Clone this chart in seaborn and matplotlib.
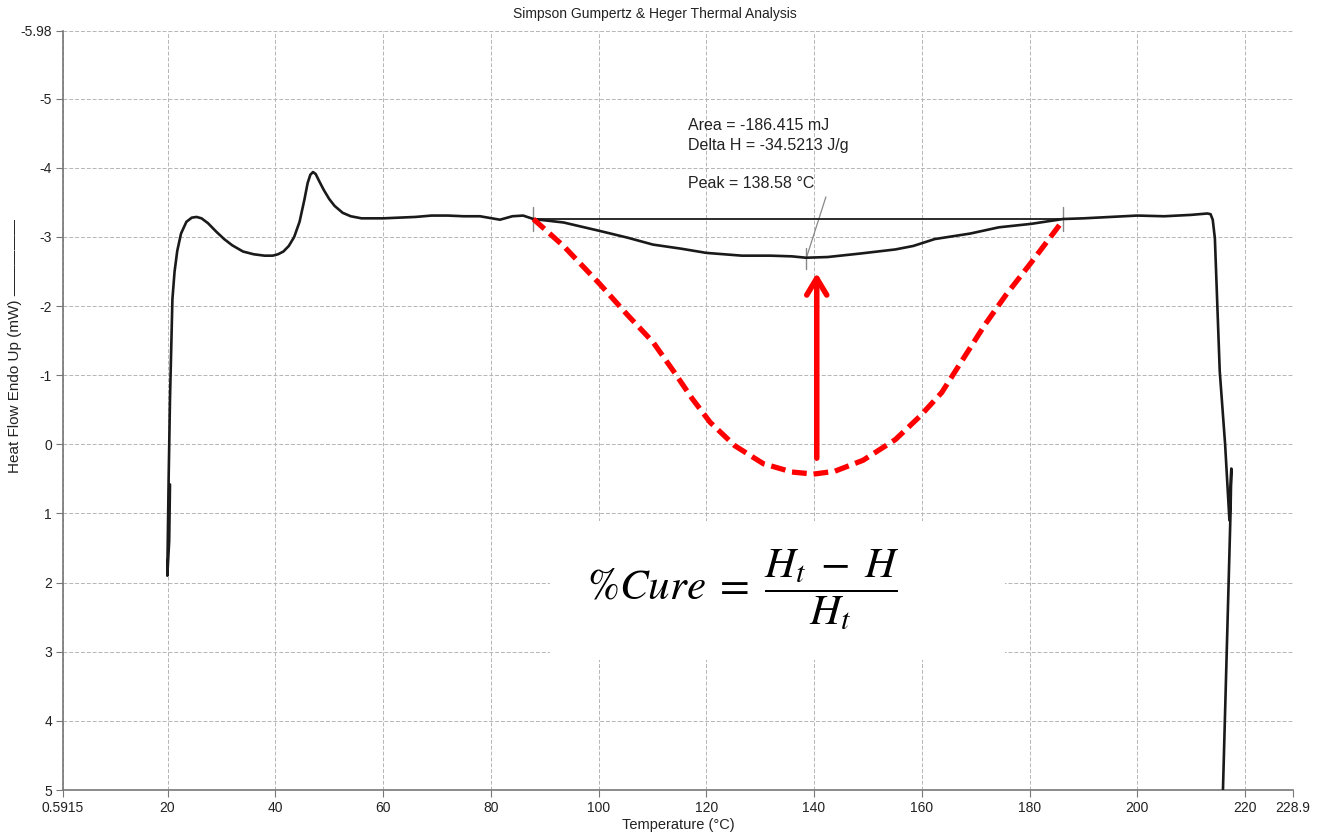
import numpy as np
import pandas as pd
import matplotlib
matplotlib.use("Agg")
import matplotlib.pyplot as plt
from matplotlib.patches import Rectangle
import seaborn as sns

# DSC trace (temperature in C, heat flow in mW, endo up)
temp = [20.45, 20.3, 19.95, 20.2, 20.45, 20.9, 21.3, 21.8, 22.5, 23.5, 24.5, 25.4,
        26.3, 27.5, 29.0, 30.5, 32.0, 34.0, 36.0, 38.0, 39.5, 40.5, 41.5, 42.5,
        43.5, 44.5, 45.4, 46.0, 46.5, 47.0, 47.5, 48.2, 49.0, 50.0, 51.0, 52.5,
        54.0, 56.0, 60.0, 63.0, 66.0, 69.0, 72.0, 75.0, 78.0, 81.7, 84.0, 86.0,
        87.9, 93.5, 100.1, 105.4, 110.1, 115.4, 120.0, 126.6, 131.9, 135.9,
        138.5, 142.5, 148.5, 155.1, 158.4, 162.4, 169.0, 174.3, 180.3, 186.2,
        190.0, 195.0, 200.0, 205.0, 210.0, 213.0, 213.6, 214.0, 214.4, 215.3,
        216.3, 217.1, 217.45, 217.3, 216.6, 215.9, 215.7]
heat = [0.58, 1.4, 1.9, 0.5, -0.65, -2.1, -2.5, -2.8, -3.05, -3.22, -3.28, -3.29,
        -3.27, -3.2, -3.08, -2.97, -2.88, -2.79, -2.75, -2.73, -2.73, -2.75, -2.79, -2.87,
        -3.0, -3.22, -3.54, -3.78, -3.9, -3.94, -3.91, -3.8, -3.68, -3.55, -3.45, -3.35,
        -3.3, -3.27, -3.27, -3.28, -3.29, -3.31, -3.31, -3.3, -3.3, -3.25, -3.3, -3.31,
        -3.26, -3.21, -3.09, -2.99, -2.89, -2.83, -2.77, -2.73, -2.73, -2.72,
        -2.7, -2.71, -2.76, -2.82, -2.87, -2.97, -3.05, -3.14, -3.19, -3.26,
        -3.27, -3.29, -3.31, -3.3, -3.32, -3.34, -3.33, -3.25, -2.98, -1.06,
        0.0, 1.1, 0.35, 1.0, 3.0, 5.0, 5.5]

# integration baseline and limits
base_t = [87.9, 186.2]
base_h = [-3.26, -3.26]
peak_t = 138.58
peak_h = -2.70

# red dashed "uncured" sketch curve
red_t = [87.9, 93.5, 100.1, 105.4, 110.1, 114.0, 117.4, 120.7, 125.3, 130.6, 135.9,
         139.9, 143.8, 149.1, 155.1, 159.7, 163.7, 167.7, 171.7, 175.6, 180.3, 183.6, 186.2]
red_h = [-3.26, -2.87, -2.33, -1.87, -1.48, -1.05, -0.66, -0.32, 0.02, 0.28, 0.40,
         0.43, 0.39, 0.23, -0.07, -0.41, -0.75, -1.24, -1.73, -2.16, -2.63, -2.97, -3.24]

x_ticks = [0.5915, 20, 40, 60, 80, 100, 120, 140, 160, 180, 200, 220, 228.9]
x_labels = ["0.5915", "20", "40", "60", "80", "100", "120", "140", "160", "180", "200", "220", "228.9"]
y_ticks = [-5.98, -5, -4, -3, -2, -1, 0, 1, 2, 3, 4, 5]
y_labels = ["-5.98", "-5", "-4", "-3", "-2", "-1", "0", "1", "2", "3", "4", "5"]

sns.set_theme(style="white")
plt.rcParams["font.family"] = ["Liberation Sans", "DejaVu Sans"]
plt.rcParams["mathtext.fontset"] = "stix"

fig, ax = plt.subplots(figsize=(13.26, 8.36), dpi=100)
fig.subplots_adjust(left=63 / 1326, right=1293 / 1326, top=1 - 31 / 836, bottom=1 - 790 / 836)

dsc = pd.DataFrame({"T": temp, "Q": heat})
red = pd.DataFrame({"T": red_t, "Q": red_h})

sns.lineplot(data=dsc, x="T", y="Q", sort=False, estimator=None, color="#1a1a1a", lw=1.9, ax=ax, zorder=4)
sns.lineplot(x=base_t, y=base_h, sort=False, estimator=None, color="#1a1a1a", lw=1.3, ax=ax, zorder=4)
sns.lineplot(data=red, x="T", y="Q", sort=False, estimator=None, color="#ff0000", lw=3.8,
             ax=ax, zorder=5)
ax.lines[-1].set_dashes((2.8, 1.3))

# limit ticks and peak marker
for t in base_t:
    ax.plot([t, t], [base_h[0] - 0.18, base_h[0] + 0.18], color="#888888", lw=1.0, zorder=3)
ax.plot([peak_t, peak_t], [peak_h - 0.14, peak_h + 0.17], color="#888888", lw=1.0, zorder=3)
ax.plot([peak_t, 142.2], [peak_h, -3.58], color="#888888", lw=0.9, zorder=3)

ax.text(116.6, -4.61, "Area = -186.415 mJ", fontsize=11.5, va="center", color="#222222")
ax.text(116.6, -4.33, "Delta H = -34.5213 J/g", fontsize=11.5, va="center", color="#222222")
ax.text(116.6, -3.78, "Peak = 138.58 \u00b0C", fontsize=11.5, va="center", color="#222222")

ax.annotate("", xy=(140.5, -2.52), xytext=(140.5, 0.24),
            arrowprops=dict(arrowstyle="->,head_width=0.6,head_length=1.0", color="#ff0000", lw=4),
            zorder=6)

# formula on white panel
ax.add_patch(Rectangle((0.396, 0.171), 0.37, 0.184, transform=ax.transAxes,
                       facecolor="white", edgecolor="none", zorder=2))
ax.text(0.553, 0.2635, r"$\%Cure\;=\;\dfrac{H_t\;-\;H}{H_t}$", transform=ax.transAxes,
        fontsize=31, ha="center", va="center", color="black", zorder=7)

ax.set_xlim(0.5915, 228.9)
ax.set_ylim(5, -5.98)
ax.set_xticks(x_ticks)
ax.set_xticklabels(x_labels)
ax.set_yticks(y_ticks)
ax.set_yticklabels(y_labels)
ax.tick_params(axis="both", labelsize=10, colors="#222222", length=5, width=0.8, direction="out",
               color="#777777", pad=3, left=True, bottom=True)

ax.grid(True, color="#b5b5b5", lw=0.7, ls=(0, (4, 2)), zorder=0)
for side in ["top", "right"]:
    ax.spines[side].set_visible(False)
for side in ["left", "bottom"]:
    ax.spines[side].set_color("#777777")
    ax.spines[side].set_linewidth(1.2)

ax.set_xlabel("Temperature (\u00b0C)", fontsize=10.5, color="#222222", labelpad=2)
ax.set_ylabel("Heat Flow Endo Up (mW) \u2014\u2014\u2014\u2014\u2014", fontsize=11, color="#222222")
ax.yaxis.set_label_coords(-0.033, 0.585)
fig.text(655 / 1326, 1 - 14 / 836, "Simpson Gumpertz & Heger Thermal Analysis",
         fontsize=10, ha="center", va="center", color="#222222")

plt.savefig("out.png", dpi=100)
plt.close()
